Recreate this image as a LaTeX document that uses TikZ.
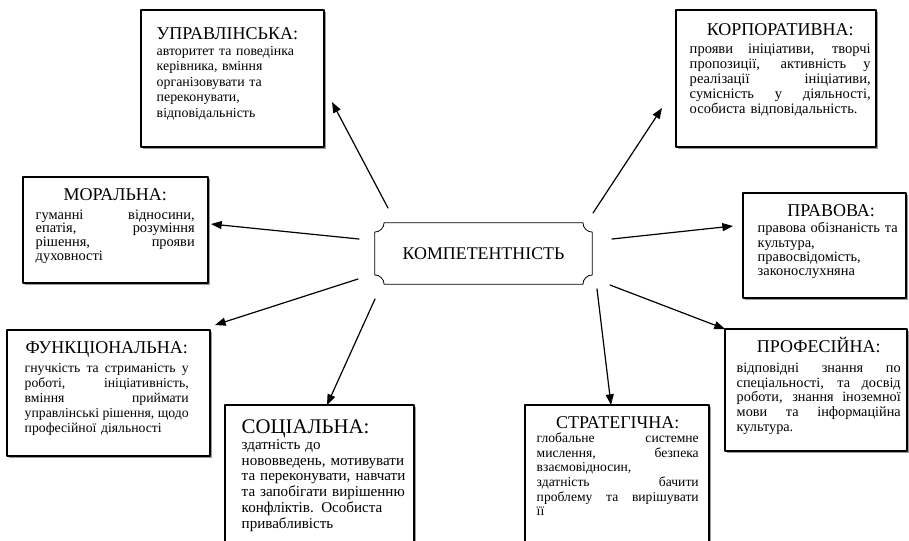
\documentclass[tikz,border=0pt]{standalone}
\usepackage{fontspec}
\setmainfont{Liberation Serif}
\usetikzlibrary{arrows.meta}
\usetikzlibrary{positioning}
\usetikzlibrary{shadows}

\newcommand{\jst}[1]{{\spaceskip=0pt\xspaceskip=0pt\makebox[\linewidth][s]{#1}}}
\newcommand{\ttl}[1]{\makebox[\linewidth][c]{\fontsize{13.5pt}{13.5pt}\selectfont #1}}
\newcommand{\ttll}[1]{{\fontsize{13.5pt}{13.5pt}\selectfont #1}}

\tikzset{
  box/.style={draw, line width=0.8pt, fill=white,
    drop shadow={shadow xshift=1.3pt, shadow yshift=-1.3pt, fill=gray, opacity=0.8}},
  txt/.style={anchor=base west, inner sep=0pt},
}

\begin{document}
\begin{tikzpicture}[line cap=round,line join=round,>={Triangle[length=8pt,width=6pt]},x=0.75pt,y=-0.75pt]
\useasboundingbox (0,0) rectangle (909,540);
\clip (0,0) rectangle (909,540);
% boxes
\node[box, minimum width=137.25pt, minimum height=102.75pt] (upr) at (232.5,78.5) {};
\node[box, minimum width=150pt, minimum height=102.75pt] (korp) at (776,78.5) {};
\node[box, minimum width=138.75pt, minimum height=79.5pt] (mor) at (115.5,230) {};
\node[box, minimum width=122.25pt, minimum height=78.75pt] (prav) at (824.5,245.5) {};
\node[box, minimum width=152.25pt, minimum height=94.5pt] (funk) at (108.5,393) {};
\node[box, minimum width=141.75pt, minimum height=116.25pt] (soc) at (319.5,482.5) {};
\node[box, minimum width=138pt, minimum height=116.25pt] (strat) at (617,482.5) {};
\node[box, minimum width=136.5pt, minimum height=91.5pt] (prof) at (816,390) {};
% texts
\node[txt, text width=118pt, font=\fontsize{10.4pt}{11.55pt}\selectfont] (uprT) at ([shift={(16,30)}]upr.north west) {%
\ttll{УПРАВЛІНСЬКА:}\\[0.45pt]
авторитет та поведінка\\
керівника, вміння\\
організовувати та\\
переконувати,\\
відповідальність};
\node[txt, text width=135.75pt, font=\fontsize{10.9pt}{11.25pt}\selectfont] (korpT) at ([shift={(14,26)}]korp.north west) {%
\ttl{КОРПОРАТИВНА:}\\[2.25pt]
\jst{прояви ініціативи, творчі}\\
\jst{пропозиції, активність у}\\
\jst{реалізації ініціативи,}\\
\jst{сумісність у діяльності,}\\
особиста відповідальність.};
\node[txt, text width=119.25pt, font=\fontsize{10.8pt}{10pt}\selectfont] (morT) at ([shift={(13,24)}]mor.north west) {%
\ttl{МОРАЛЬНА:}\\[4.25pt]
\jst{гуманні відносини,}\\
\jst{епатія, розуміння}\\
\jst{рішення, прояви}\\[0.8pt]
духовності};
\node[txt, text width=110pt, font=\fontsize{10.8pt}{10.7pt}\selectfont] (pravT) at ([shift={(15,24)}]prav.north west) {%
\ttl{ПРАВОВА:}\\[1.5pt]
правова обізнаність та\\
культура,\\
правосвідомість,\\
законослухняна};
\node[txt, text width=123pt, font=\fontsize{10.3pt}{11.25pt}\selectfont] (funkT) at ([shift={(18,24)}]funk.north west) {%
\ttl{ФУНКЦІОНАЛЬНА:}\\[3pt]
\jst{гнучкість та стриманість у}\\
\jst{роботі, ініціативність,}\\
\jst{вміння приймати}\\
\jst{управлінські рішення, щодо}\\
професійної діяльності};
\node[txt, text width=128pt, font=\fontsize{11.3pt}{11.85pt}\selectfont] (socT) at ([shift={(17,29)}]soc.north west) {%
{\fontsize{15.6pt}{15.6pt}\selectfont СОЦІАЛЬНА:}\\
здатність до\\
нововведень, мотивувати\\
та переконувати, навчати\\
та запобігати вирішенню\\
конфліктів. Особиста\\
привабливість};
\node[txt, text width=121.5pt, font=\fontsize{10.2pt}{11pt}\selectfont] (stratT) at ([shift={(12,24)}]strat.north west) {%
\ttl{СТРАТЕГІЧНА:}\\[-0.5pt]
\jst{глобальне системне}\\
\jst{мислення, безпека}\\
взаємовідносин,\\
\jst{здатність бачити}\\
\jst{проблему та вирішувати}\\
її};
\node[txt, text width=123pt, font=\fontsize{10.7pt}{11pt}\selectfont] (profT) at ([shift={(12,24)}]prof.north west) {%
\ttl{ПРОФЕСІЙНА:}\\[4pt]
\jst{відповідні знання по}\\
\jst{спеціальності, та досвід}\\
\jst{роботи, знання іноземної}\\
\jst{мови та інформаційна}\\
культура.};
% centre
\node[minimum width=162.75pt, minimum height=45.75pt, font=\fontsize{13.4pt}{13.4pt}\selectfont] (komp) at (483.5,253.5) {КОМПЕТЕНТНІСТЬ};
\draw[line width=0.6pt] ([xshift=7pt]komp.north west) -- ([xshift=-7pt]komp.north east)
  arc[start angle=180, end angle=270, radius=7pt] -- ([yshift=7pt]komp.south east)
  arc[start angle=90, end angle=180, radius=7pt] -- ([xshift=7pt]komp.south west)
  arc[start angle=0, end angle=90, radius=7pt] -- ([yshift=-7pt]komp.north west)
  arc[start angle=270, end angle=360, radius=7pt] -- cycle;
% arrows
\coordinate (upr-s) at (388,208);   \coordinate (upr-e) at (332,102);
\coordinate (korp-s) at (593,213);  \coordinate (korp-e) at (662,108);
\coordinate (mor-s) at (359,239);   \coordinate (mor-e) at (211,224);
\coordinate (funk-s) at (358,279);  \coordinate (funk-e) at (215,325);
\coordinate (soc-s) at (375,299);   \coordinate (soc-e) at (327,405);
\coordinate (strat-s) at (597,289); \coordinate (strat-e) at (611,405);
\coordinate (prav-s) at (612,239);  \coordinate (prav-e) at (733,226);
\coordinate (prof-s) at (610,285);  \coordinate (prof-e) at (725,329);
\foreach \n in {upr,korp,mor,funk,soc,strat,prav,prof}
  \draw[->, line width=0.9pt] (\n-s) -- (\n-e);
\end{tikzpicture}
\end{document}
